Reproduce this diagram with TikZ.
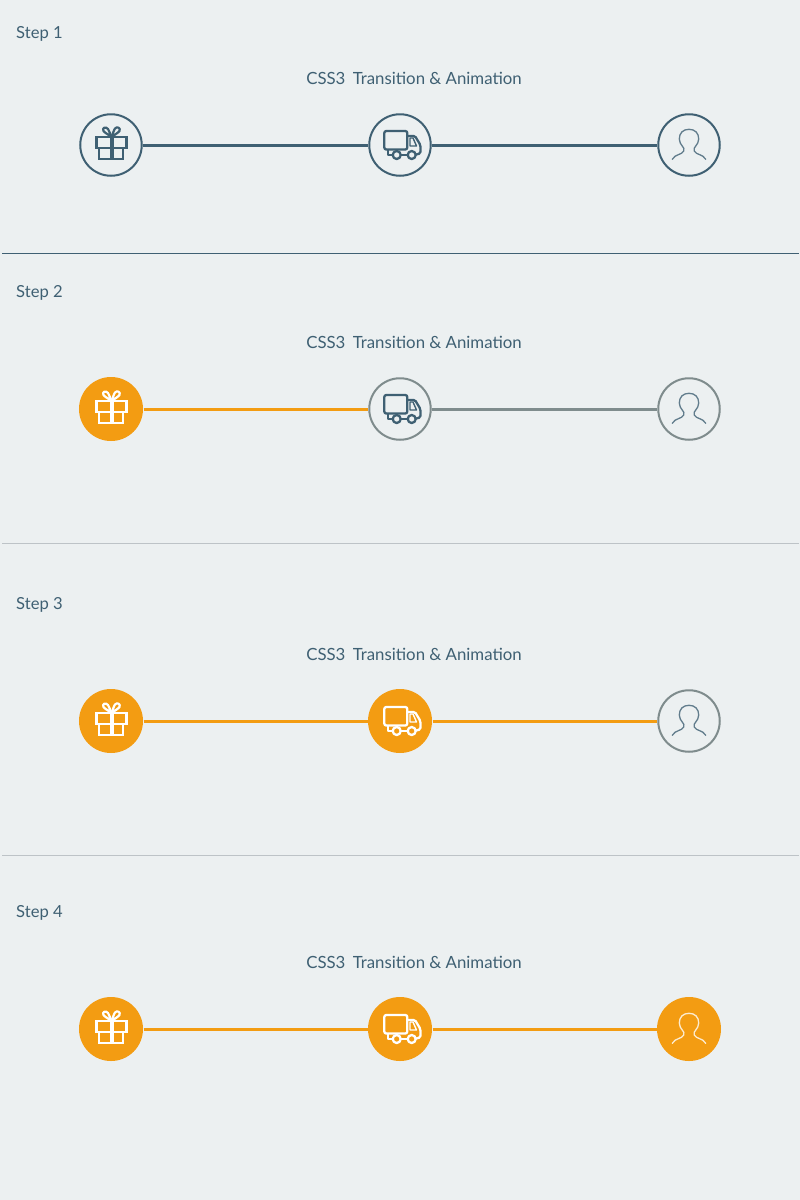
\documentclass[tikz,border=0pt]{standalone}
\usepackage{fontspec}
\setmainfont{Lato}
\definecolor{bgc}{HTML}{ECF0F1}
\definecolor{navy}{HTML}{3F6073}
\definecolor{grayc}{HTML}{7F8C8D}
\definecolor{orangec}{HTML}{F39C12}
\definecolor{sep}{HTML}{BDC3C7}
\tikzset{x=1pt,y=-1pt,
 stepnum/.style={anchor=west,text=navy,font=\fontsize{16.6}{18}\selectfont,inner sep=0pt},
 title/.style={anchor=center,text=navy,font=\fontsize{16.8}{18}\selectfont,inner sep=0pt},
 stat/.style={circle,minimum size=61.5pt,inner sep=0pt,line width=2pt},
 undone/.style={stat,draw=grayc,fill=bgc},
 firstc/.style={stat,draw=navy,fill=bgc},
 done/.style={stat,draw=orangec,fill=orangec,minimum size=62pt},
 link/.style={line width=3pt,shorten >=0.5pt,shorten <=0.5pt},
}
\newcommand{\gifticon}[3]{\begin{scope}[shift={(#1,#2)},draw=#3,line width=2.2pt,line join=miter]
 \draw (-14.5,-8) rectangle (15.5,3);
 \draw (-11.7,3) -- (-11.7,14.3) -- (12,14.3) -- (12,3);
 \draw[line width=3.6pt] (0.7,-8) -- (0.7,14.5);
 \draw[line width=2.2pt,line join=round] (0.7,-8) .. controls (-2,-10) and (-6,-12) .. (-7.5,-14) .. controls (-9.5,-17) and (-5,-19) .. (-3,-16) .. controls (-2,-14) and (-0.5,-11) .. (0.7,-8);
 \draw[line width=2.2pt,line join=round] (0.7,-8) .. controls (3,-10) and (7,-12) .. (8.5,-14) .. controls (10,-17) and (6,-19) .. (4,-16.5) .. controls (3,-15) and (1.5,-11) .. (0.7,-8);
\end{scope}}
\newcommand{\truckicon}[3]{\begin{scope}[shift={(#1,#2)},draw=#3,line width=2.3pt,line join=round]
 \draw[rounded corners=2pt] (-15.7,-14) rectangle (7.3,4.5);
 \draw[rounded corners=1.5pt] (7.3,-9) -- (15,-9) -- (20.4,0) -- (20.4,8.5) -- (16,9.5);
 \draw (-11.7,4.5) -- (-11.7,10) -- (-7.5,10);
 \draw (0.7,10) -- (7.7,10);
 \draw[line width=1.4pt] (10,-7) -- (13,-7) -- (16.5,1) -- (10,1) -- cycle;
 \draw (-3.3,10) circle (4);
 \draw (11.7,10) circle (4);
\end{scope}}
\newcommand{\usericon}[3]{\begin{scope}[shift={(#1,#2)},draw=#3,draw opacity=0.8,line width=1.3pt,line cap=round]
 \draw (-16.7,14.3) .. controls (-14,9) and (-7,10) .. (-5.3,6) .. controls (-4.6,4) and (-5.3,2.5) .. (-6.3,1.7) .. controls (-8,-1) and (-10,-3) .. (-9.7,-6) .. controls (-9.7,-12) and (-6,-15.7) .. (0,-15.7) .. controls (6,-15.7) and (9.7,-12) .. (9.7,-6) .. controls (10,-3) and (8,-1) .. (6.3,1.7) .. controls (5.3,2.5) and (4.6,4) .. (5.3,6) .. controls (7,10) and (14,9) .. (16.7,14.3);
\end{scope}}
\newcommand{\panel}[7]{%
 \node[stepnum] (lab#1) at (16,#3) {#2};
 \node[title] (tit#1) at (414,#4) {CSS3\hspace{3pt} Transition \& Animation};
 \node[#6] (a#1) at (111,#5) {};
 \node[#7] (b#1) at (400,#5) {};
}
\begin{document}
\begin{tikzpicture}
\useasboundingbox[fill=bgc] (0,0) rectangle (800,1200);
\coordinate (s1a) at (2,253.5); \coordinate (s1b) at (799,253.5);
\coordinate (s2a) at (2,543.5); \coordinate (s2b) at (799,543.5);
\coordinate (s3a) at (2,855.5); \coordinate (s3b) at (799,855.5);
\draw[navy,line width=0.8pt] (s1a) -- (s1b);
\draw[sep,line width=0.9pt] (s2a) -- (s2b);
\draw[sep,line width=0.9pt] (s3a) -- (s3b);
% Step 1
\panel{1}{Step 1}{34}{78.5}{145}{firstc}{firstc}
\node[firstc] (c1) at (689,145) {};
\draw[link,navy] (a1) -- (b1);
\draw[link,navy] (b1) -- (c1);
\gifticon{111}{145}{navy}\truckicon{400}{145}{navy}\usericon{689}{145}{navy}
% Step 2
\panel{2}{Step 2}{293}{342.5}{409}{done}{undone}
\node[undone] (c2) at (689,409) {};
\draw[link,orangec] (a2) -- (b2);
\draw[link,grayc] (b2) -- (c2);
\gifticon{111}{409}{white}\truckicon{400}{409}{navy}\usericon{689}{409}{navy}
% Step 3
\panel{3}{Step 3}{605}{654.5}{721}{done}{done}
\node[undone] (c3) at (689,721) {};
\draw[link,orangec] (a3) -- (b3);
\draw[link,orangec] (b3) -- (c3);
\gifticon{111}{721}{white}\truckicon{400}{721}{white}\usericon{689}{721}{navy}
% Step 4
\panel{4}{Step 4}{913}{962.5}{1029}{done}{done}
\node[done] (c4) at (689,1029) {};
\draw[link,orangec] (a4) -- (b4);
\draw[link,orangec] (b4) -- (c4);
\gifticon{111}{1029}{white}\truckicon{400}{1029}{white}\usericon{689}{1029}{white}
\end{tikzpicture}
\end{document}
